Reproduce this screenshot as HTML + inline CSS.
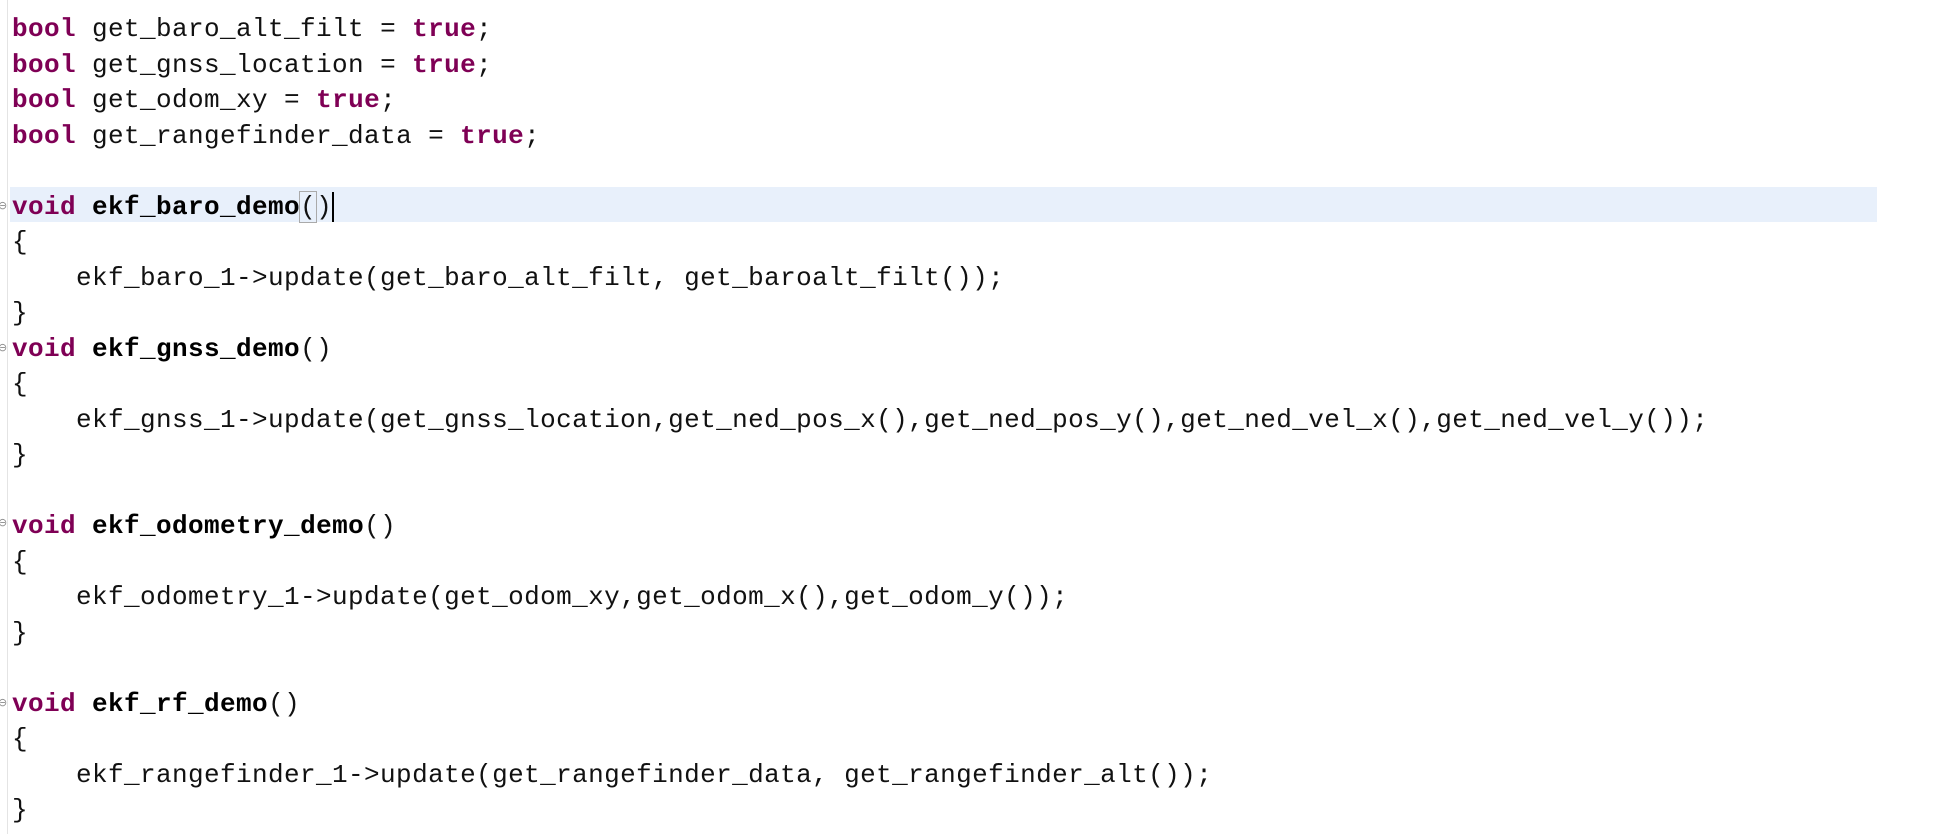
<!DOCTYPE html>
<html><head><meta charset="utf-8"><style>
html,body{margin:0;padding:0;width:1940px;height:834px;background:#fff;overflow:hidden}
.g{position:absolute;left:7px;top:0;width:1px;height:834px;background:#e4e4e4}
.hl{position:absolute;left:10px;top:187px;width:1867px;height:35px;background:#e8f0fb}
pre{position:absolute;left:12px;top:12px;margin:0;font-family:"Liberation Mono",monospace;font-size:26px;letter-spacing:0.4px;line-height:35.5px;color:#111}
.k{color:#7f0055;font-weight:bold}
b{font-weight:bold;color:#000}
.f{position:absolute;left:-2px;font-size:11px;color:#888;font-family:"DejaVu Sans",sans-serif}
.cur{display:inline-block;width:2px;height:30px;background:#000;vertical-align:middle}
.br{outline:1px solid #aaa}
</style></head><body>
<div class="g"></div>
<div class="hl"></div>
<div class="f" style="top:199px">⊖</div>
<div class="f" style="top:341px">⊖</div>
<div class="f" style="top:516px">⊖</div>
<div class="f" style="top:696px">⊖</div>
<pre><span class="k">bool</span> get_baro_alt_filt = <span class="k">true</span>;
<span class="k">bool</span> get_gnss_location = <span class="k">true</span>;
<span class="k">bool</span> get_odom_xy = <span class="k">true</span>;
<span class="k">bool</span> get_rangefinder_data = <span class="k">true</span>;

<span class="k">void</span> <b>ekf_baro_demo</b><span class="br">(</span>)<span class="cur"></span>
{
    ekf_baro_1-&gt;update(get_baro_alt_filt, get_baroalt_filt());
}
<span class="k">void</span> <b>ekf_gnss_demo</b>()
{
    ekf_gnss_1-&gt;update(get_gnss_location,get_ned_pos_x(),get_ned_pos_y(),get_ned_vel_x(),get_ned_vel_y());
}

<span class="k">void</span> <b>ekf_odometry_demo</b>()
{
    ekf_odometry_1-&gt;update(get_odom_xy,get_odom_x(),get_odom_y());
}

<span class="k">void</span> <b>ekf_rf_demo</b>()
{
    ekf_rangefinder_1-&gt;update(get_rangefinder_data, get_rangefinder_alt());
}</pre>
</body></html>
